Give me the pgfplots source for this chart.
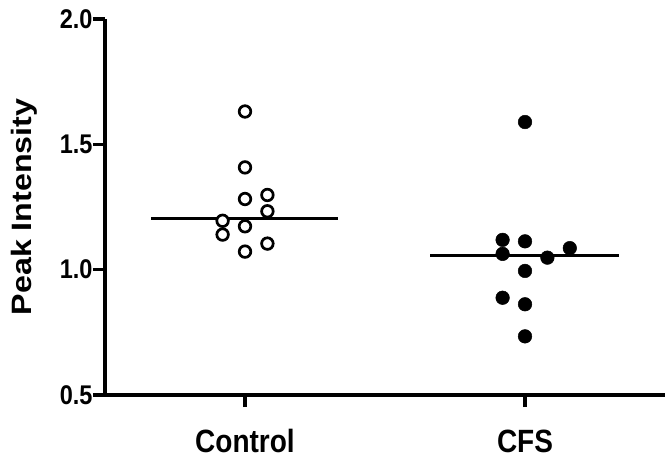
\documentclass[border=0pt]{standalone}
\usepackage{fontspec}
\setmainfont{Liberation Sans}
\usepackage{graphicx}
\usepackage{pgfplots}
\pgfplotsset{compat=1.18}
\newcommand{\tl}[1]{\scalebox{1}[1.15]{#1}}
\begin{document}
\begin{tikzpicture}
\begin{axis}[
  scale only axis,
  width=560pt, height=376pt,
  xmin=-0.5, xmax=1.5,
  ymin=0.5, ymax=2.0,
  axis x line=bottom, axis y line=left,
  axis line style={-, line width=3.5pt, black},
  x axis line style={-}, y axis line style={-},
  xtick={0,1}, xticklabels={\tl{Control},\tl{CFS}},
  ytick={0.5,1.0,1.5,2.0}, yticklabels={\tl{0.5},\tl{1.0},\tl{1.5},\tl{2.0}},
  tick align=outside,
  major tick length=12pt,
  tick style={line width=3.5pt, black},
  xticklabel style={font=\fontsize{28}{31}\selectfont\bfseries, anchor=north, yshift=-19pt},
  yticklabel style={font=\fontsize{23.5}{26}\selectfont\bfseries, xshift=3pt},
  ylabel={\scalebox{1.15}[1]{Peak Intensity}},
  ylabel style={font=\fontsize{28}{31}\selectfont\bfseries, at={(axis description cs:-0.1446,0.5)}, anchor=center, rotate=0},
  clip=false,
]
\addplot[black, line width=3pt] coordinates {(-0.334,1.206) (0.333,1.206)};
\addplot[black, line width=3pt] coordinates {(0.662,1.056) (1.335,1.056)};
\addplot[only marks, mark=*, mark size=5.8pt, mark options={draw=black, fill=white, line width=2.7pt}] coordinates {
(0,1.631) (0,1.408) (0,1.282) (0.08,1.298) (0.08,1.233) (-0.08,1.195) (-0.08,1.140) (0,1.173) (0.08,1.104) (0,1.072)
};
\addplot[only marks, mark=*, mark size=6.8pt, mark options={draw=black, fill=black, line width=0.5pt}] coordinates {
(1,1.589) (0.92,1.119) (1,1.113) (0.92,1.063) (1.08,1.048) (1.16,1.086) (1,0.995) (0.92,0.888) (1,0.862) (1,0.734)
};
\end{axis}
\pgfresetboundingbox
\path[use as bounding box] ([xshift=-105pt,yshift=-71pt]current axis.south west) rectangle ([yshift=19pt]current axis.north east);
\end{tikzpicture}
\end{document}
